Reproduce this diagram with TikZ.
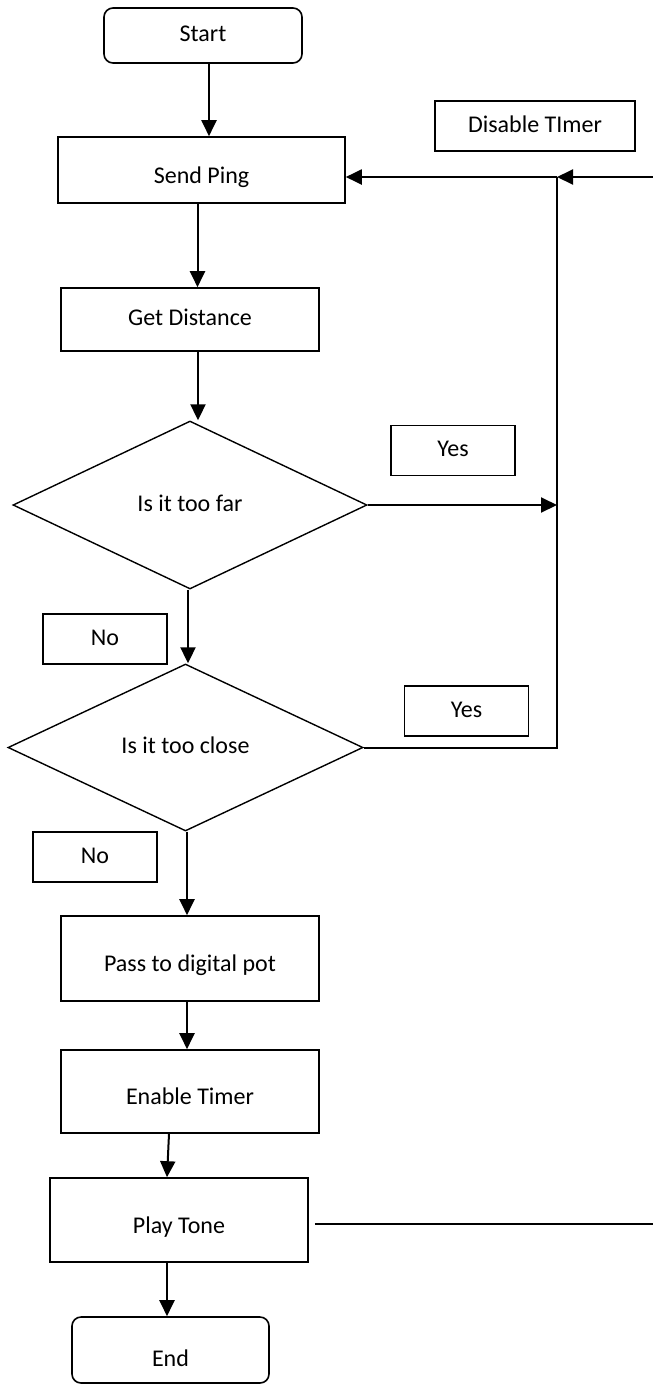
\documentclass[tikz,border=0pt]{standalone}
\usepackage{fontspec}
\setmainfont{Carlito}
\usetikzlibrary{arrows.meta,shapes.geometric}
\begin{document}
\begin{tikzpicture}[x=1pt,y=-1pt,
  every node/.style={font=\fontsize{24}{28}\selectfont, inner sep=0pt, text height=17pt, text depth=5pt},
  box/.style={draw, line width=1.6pt, rectangle},
  rbox/.style={box, rounded corners=9pt},
  lowtext/.style={text height=31pt, text depth=5pt},
  lowertext/.style={text height=37pt, text depth=5pt},
  decision/.style={draw, line width=1.4pt, diamond, aspect=2.1},
  lbl/.style={draw, line width=1.5pt, rectangle, minimum width=124pt, minimum height=50pt},
  arr/.style={line width=2pt, -{Triangle[length=16pt,width=15pt]}},
  ln/.style={line width=2pt}
]
\useasboundingbox (0,0) rectangle (653,1385);

\node[rbox, minimum width=198pt, minimum height=55pt] (start) at (203,35.5) {Start};
\node[box, lowtext, minimum width=287pt, minimum height=66pt] (send) at (201.5,170) {Send Ping};
\node[box, line width=1.5pt, minimum width=200pt, minimum height=50pt] (dis) at (535,126) {Disable TImer};
\node[box, minimum width=258pt, minimum height=63pt] (getd) at (190,319.5) {Get Distance};
\node[decision, minimum width=354pt, minimum height=168pt] (far) at (190,505) {Is it too far};
\node[lbl] (yes1) at (453,450.5) {Yes};
\node[lbl] (no1) at (105,639) {No};
\node[decision, minimum width=355pt, minimum height=167pt] (close) at (185.5,747.5) {Is it too close};
\node[lbl] (yes2) at (466.5,711) {Yes};
\node[lbl] (no2) at (95,857) {No};
\node[box, lowtext, minimum width=258pt, minimum height=85pt] (pass) at (190,958.5) {Pass to digital pot};
\node[box, lowtext, minimum width=258pt, minimum height=83pt] (enable) at (190,1091.5) {Enable Timer};
\node[box, lowtext, minimum width=258pt, minimum height=84pt] (play) at (179,1220) {Play Tone};
\node[rbox, lowertext, minimum width=197pt, minimum height=66pt] (end) at (170.5,1350) {End};

\coordinate (jn) at (557,177);
\coordinate (rin) at (653,177);
\coordinate (rout) at (653,1224);

\draw[arr] ([xshift=6pt]start.south) -- ([xshift=6pt]start.south |- send.north);
\draw[arr] ([xshift=-4pt]send.south) -- ([xshift=-4pt]send.south |- getd.north);
\draw[arr] ([xshift=8pt]getd.south) -- ([xshift=8pt]getd.south |- far.north);
\draw[arr] (far.east) -- (far.east -| jn);
\draw[ln] (close.east) -- (close.east -| jn) -- (jn);
\draw[arr] (jn) -- (jn -| send.east);
\draw[arr] (rin) -- (jn);
\draw[arr] ([xshift=-2pt]far.south) -- ([xshift=-2pt]far.south |- close.north);
\draw[arr] ([xshift=1.5pt]close.south) -- ([xshift=1.5pt]close.south |- pass.north);
\draw[arr] ([xshift=-3pt]pass.south) -- ([xshift=-3pt]pass.south |- enable.north);
\draw[arr] ([xshift=-21pt]enable.south) -- ([xshift=-12pt]play.north);
\draw[arr] ([xshift=-12pt]play.south) -- ([xshift=-12pt]play.south |- end.north);
\draw[ln] ([xshift=6pt]play.east |- rout) -- (rout);
\end{tikzpicture}
\end{document}
